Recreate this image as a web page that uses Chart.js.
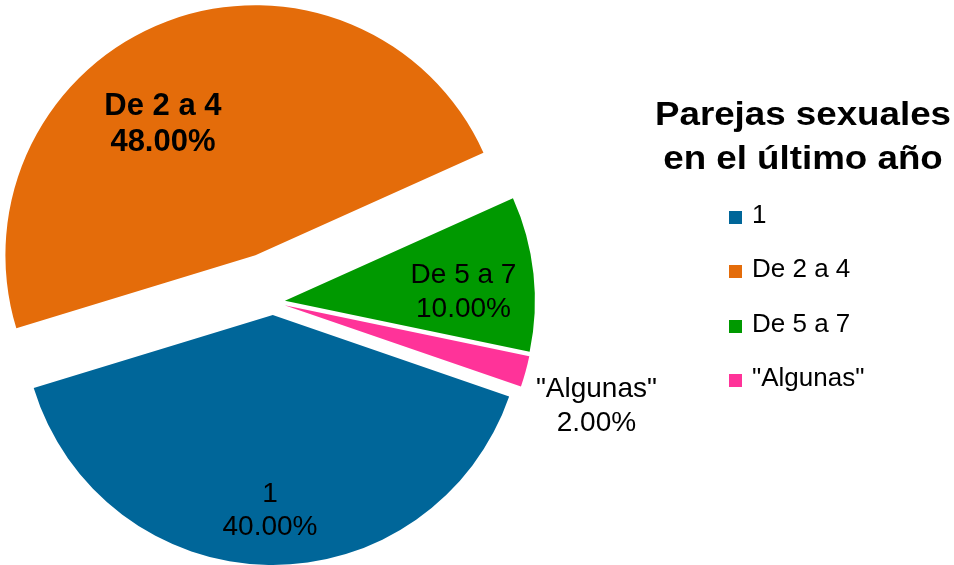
<!DOCTYPE html>
<html>
<head>
<meta charset="utf-8">
<script src="https://cdn.jsdelivr.net/npm/chart.js@4/dist/chart.umd.min.js"></script>
<style>
html,body{margin:0;padding:0;background:#fff;}
#wrap{position:relative;width:954px;height:565px;overflow:hidden;font-family:"Liberation Sans",Arial,sans-serif;}
#c{position:absolute;left:0;top:0;}
#title{position:absolute;left:650px;width:306px;top:91px;text-align:center;font-weight:bold;font-size:34px;line-height:44px;color:#000;transform:scaleX(1.08);transform-origin:50% 50%;white-space:nowrap;}
#legend{position:absolute;left:729px;top:187px;}
.item{position:relative;height:54.33px;width:220px;}
.box{position:absolute;left:0;top:24px;width:13px;height:13px;}
.txt{position:absolute;left:23px;top:0;font-size:26px;line-height:54.33px;white-space:nowrap;color:#000;}
</style>
</head>
<body>
<div id="wrap">
  <canvas id="c" width="954" height="565"></canvas>
  <div id="title"></div>
  <div id="legend"></div>
</div>
<script>
// ---- data ----
const categories = ['1', 'De 2 a 4', 'De 5 a 7', '"Algunas"'];
const percentages = [40, 48, 10, 2];
const sliceColors = ['#006699', '#E46C0A', '#009900', '#FF3399'];
const titleLines = ['Parejas sexuales', 'en el último año'];

// ---- styling (explode distances in px and label placement) ----
const explodeDist = [13, 50, 12, 12];
const labelPlace = [
  { da: -0.2, f: 0.866, font: '28px "Liberation Sans", Arial, sans-serif', lh: 33 },
  { da: -12.5, f: 0.806, font: 'bold 31px "Liberation Sans", Arial, sans-serif', lh: 36 },
  { da: 5.6, f: 0.762, font: '28px "Liberation Sans", Arial, sans-serif', lh: 34 },
  { da: 3.7, f: 1.369, font: '28px "Liberation Sans", Arial, sans-serif', lh: 34 }
];

// title
document.getElementById('title').innerHTML = titleLines.map(t => '<div>' + t + '</div>').join('');
// legend
const lg = document.getElementById('legend');
categories.forEach((c, i) => {
  const it = document.createElement('div');
  it.className = 'item';
  const b = document.createElement('div');
  b.className = 'box';
  b.style.background = sliceColors[i];
  const t = document.createElement('div');
  t.className = 'txt';
  t.textContent = c;
  it.appendChild(b); it.appendChild(t);
  lg.appendChild(it);
});

// explode slices: move each arc's apex outward along its mid angle, keeping radius
const explodePlugin = {
  id: 'explode',
  afterDatasetsUpdate(chart) {
    const meta = chart.getDatasetMeta(0);
    meta.data.forEach((arc, i) => {
      const mid = (arc.startAngle + arc.endAngle) / 2;
      arc.$cx = arc.x; arc.$cy = arc.y;
      arc.x = arc.$cx + Math.cos(mid) * explodeDist[i];
      arc.y = arc.$cy + Math.sin(mid) * explodeDist[i];
    });
  }
};

const labelPlugin = {
  id: 'sliceLabels',
  afterDatasetsDraw(chart) {
    const ctx = chart.ctx;
    const meta = chart.getDatasetMeta(0);
    const data = chart.data.datasets[0].data;
    const total = data.reduce((a, b) => a + b, 0);
    meta.data.forEach((arc, i) => {
      const st = labelPlace[i];
      const mid = (arc.startAngle + arc.endAngle) / 2 + st.da * Math.PI / 180;
      const r = arc.outerRadius * st.f;
      const x = arc.$cx + Math.cos(mid) * r;
      const y = arc.$cy + Math.sin(mid) * r;
      ctx.save();
      ctx.font = st.font;
      ctx.fillStyle = '#000';
      ctx.textAlign = 'center';
      ctx.textBaseline = 'alphabetic';
      const pct = (data[i] / total * 100).toFixed(2) + '%';
      ctx.fillText(chart.data.labels[i], x, y - st.lh / 2);
      ctx.fillText(pct, x, y + st.lh / 2);
      ctx.restore();
    });
  }
};

new Chart(document.getElementById('c'), {
  type: 'pie',
  data: {
    labels: categories,
    datasets: [{
      data: percentages,
      backgroundColor: sliceColors,
      borderWidth: 0,
      offset: 0,
      hoverOffset: 0,
      clip: false
    }]
  },
  options: {
    responsive: false,
    animation: false,
    devicePixelRatio: 1,
    rotation: 109,
    radius: 250,
    layout: { padding: { left: 0, right: 408, top: 39, bottom: 0 } },
    plugins: { legend: { display: false }, tooltip: { enabled: false } },
    events: []
  },
  plugins: [explodePlugin, labelPlugin]
});
</script>
</body>
</html>
